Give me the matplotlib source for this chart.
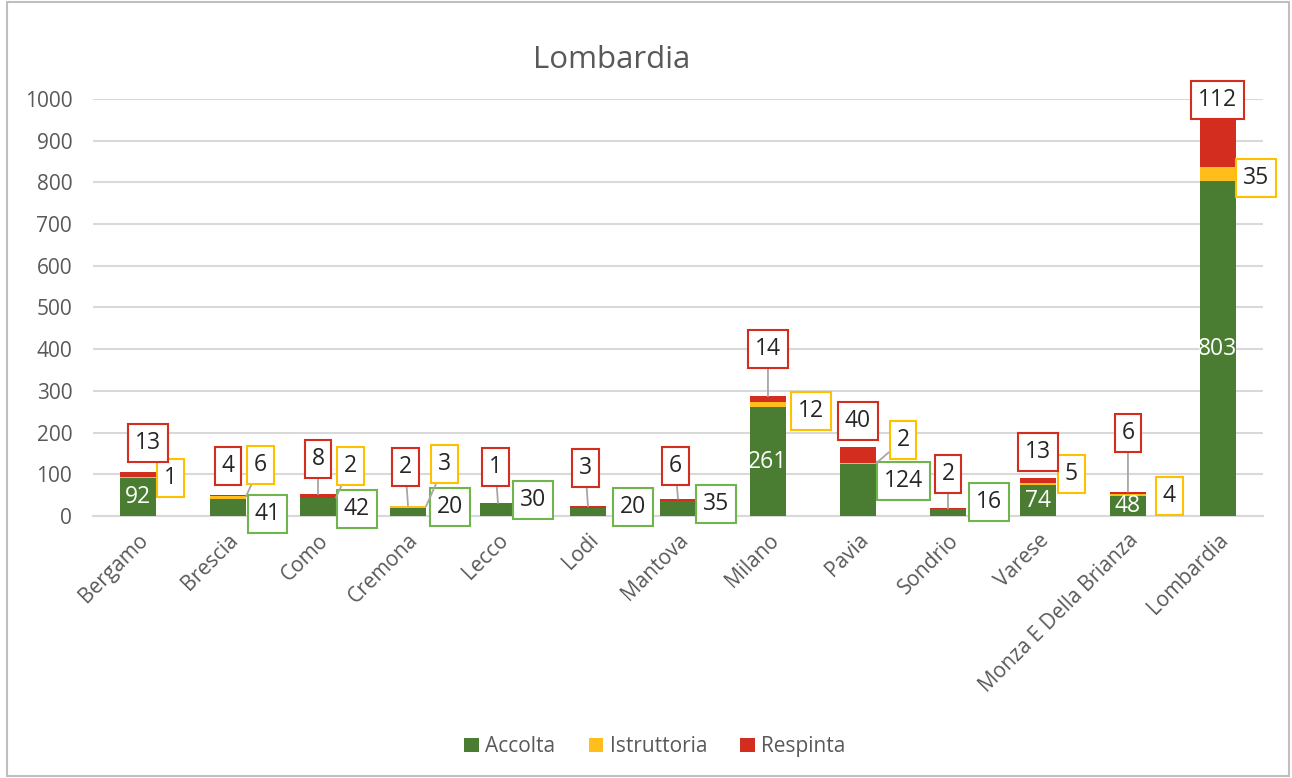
import matplotlib
matplotlib.use("Agg")
import matplotlib.pyplot as plt
from matplotlib.patches import Rectangle

plt.rcParams['font.family'] = ['Open Sans', 'DejaVu Sans']

# ---- data ----
categories = ["Bergamo", "Brescia", "Como", "Cremona", "Lecco", "Lodi", "Mantova",
              "Milano", "Pavia", "Sondrio", "Varese", "Monza E Della Brianza", "Lombardia"]
accolta = [92, 41, 42, 20, 30, 20, 35, 261, 124, 16, 74, 48, 803]
istruttoria = [1, 6, 2, 3, 0, 0, 0, 12, 2, 0, 5, 4, 35]
respinta = [13, 4, 8, 2, 1, 3, 6, 14, 40, 2, 13, 6, 112]
yticks = [0, 100, 200, 300, 400, 500, 600, 700, 800, 900, 1000]

# ---- label placement (dx from category centre, y in data units); None = inside bar ----
green_pos = [None, (0.44, 5), (0.43, 17), (0.47, 22), (0.39, 38), (0.50, 22), (0.42, 29),
             None, (0.51, 84), (0.46, 34), None, None, None]
yellow_pos = [(0.36, 91), (0.36, 122), (0.36, 120), (0.41, 125), None, None, None,
              (0.48, 252), (0.50, 182), None, (0.37, 101), (0.46, 48), (0.42, 811)]
red_pos = [(0.11, 175), (0.0, 120), (0.0, 137), (-0.03, 118), (-0.03, 118), (-0.03, 115),
           (-0.03, 120), (0.0, 400), (0.0, 228), (0.0, 101), (0.0, 153), (0.0, 199), (0.0, 998)]
red_leader = [False, False, True, True, True, True, True, True, False, True, False, True, False]
yellow_leader = [False, True, True, True, False, False, False, False, True, False, False, False, False]

c_green, c_yellow, c_red = '#4A7D32', '#FFBE1C', '#D22D1F'
e_green, e_yellow, e_red = '#70B44C', '#FFC000', '#D22D1F'
lead_c = '#A6A6A6'
txt_c = '#262626'
fs_lab = 16.5
fs_tick = 15

fig = plt.figure(figsize=(12.92, 7.78), dpi=100)
ax = fig.add_axes([0.072, 0.3368, 0.9055, 0.536])

x = list(range(len(categories)))
w = 0.4
base2 = [a + b for a, b in zip(accolta, istruttoria)]
ax.bar(x, accolta, w, color=c_green, label='Accolta', zorder=3)
ax.bar(x, istruttoria, w, bottom=accolta, color=c_yellow, label='Istruttoria', zorder=3)
ax.bar(x, respinta, w, bottom=base2, color=c_red, label='Respinta', zorder=3)

ax.set_xlim(-0.5, len(categories) - 0.5)
ax.set_ylim(0, 1000)
ax.set_yticks(yticks)
ax.yaxis.grid(True, color='#D9D9D9', lw=1.5, zorder=0)
ax.set_axisbelow(True)
for s in ['top', 'right', 'left']:
    ax.spines[s].set_visible(False)
ax.spines['bottom'].set_color('#D9D9D9')
ax.spines['bottom'].set_linewidth(1.5)
ax.tick_params(axis='y', length=0, pad=15, labelsize=fs_tick, labelcolor='#595959')
ax.tick_params(axis='x', length=0, pad=10, labelsize=fs_tick, labelcolor='#595959')
ax.set_xticks(x)
ax.set_xticklabels(categories, rotation=45, ha='right', rotation_mode='anchor')

def box(ec):
    return dict(boxstyle='square,pad=0.3', fc='white', ec=ec, lw=1.5)

def place(i, txt, pos, ec, target, leader):
    lx, ly = i + pos[0], pos[1]
    if leader:
        ax.annotate(txt, xy=target, xytext=(lx, ly), textcoords='data',
                    ha='center', va='center', fontsize=fs_lab, color=txt_c,
                    bbox=box(ec), zorder=6,
                    arrowprops=dict(arrowstyle='-', color=lead_c, lw=1.3,
                                    shrinkA=0, shrinkB=0))
    else:
        ax.text(lx, ly, txt, ha='center', va='center', fontsize=fs_lab,
                color=txt_c, bbox=box(ec), zorder=6)

for i in x:
    # green
    if green_pos[i] is None:
        ax.text(i, accolta[i] / 2, str(accolta[i]), ha='center', va='center',
                fontsize=fs_lab, color='white', zorder=5)
    else:
        place(i, str(accolta[i]), green_pos[i], e_green, None, False)
    # yellow
    if yellow_pos[i] is not None and istruttoria[i] > 0:
        place(i, str(istruttoria[i]), yellow_pos[i], e_yellow,
              (i + w / 2, base2[i]), yellow_leader[i])
    # red
    if respinta[i] > 0:
        place(i, str(respinta[i]), red_pos[i], e_red,
              (i, base2[i] + respinta[i]), red_leader[i])

fig.text(0.4735, 0.923, 'Lombardia', ha='center', va='center', fontsize=22.5, color='#595959')

leg = ax.legend(loc='center', bbox_to_anchor=(0.507, 0.04), bbox_transform=fig.transFigure,
                ncol=3, frameon=False, fontsize=fs_tick, handlelength=0.7, handleheight=0.7,
                handletextpad=0.3, columnspacing=1.6)
for t in leg.get_texts():
    t.set_color('#595959')

fig.patches.append(Rectangle((0.0055, 0.003), 0.992, 0.994, transform=fig.transFigure,
                             fill=False, ec='#BFBFBF', lw=1.5))

fig.savefig('out.png', dpi=100)
